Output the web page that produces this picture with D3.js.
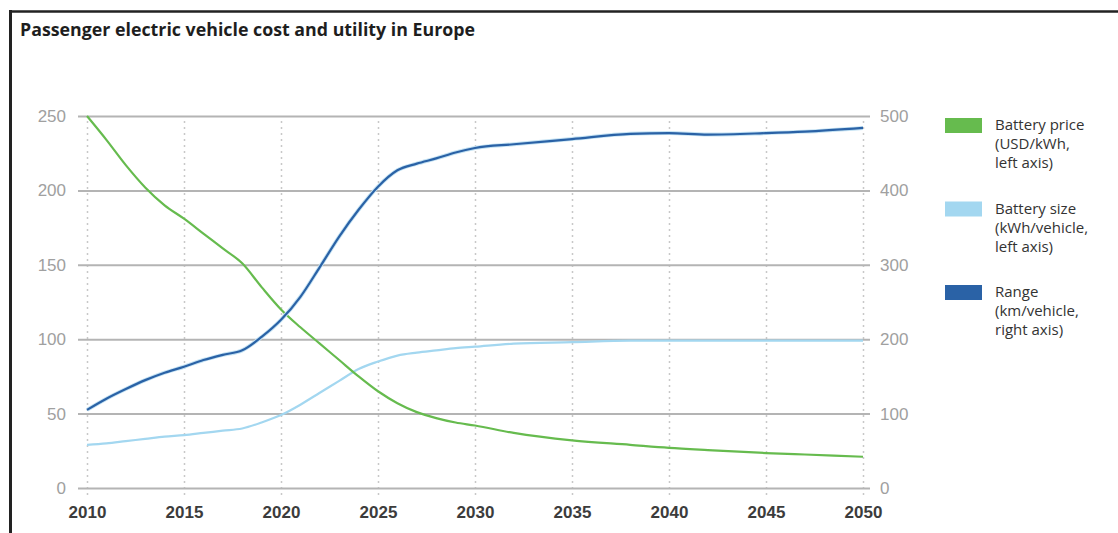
<!DOCTYPE html>
<html>
<head>
<meta charset="utf-8">
<script src="https://cdn.jsdelivr.net/npm/d3@7/dist/d3.min.js"></script>
<style>
  body { margin: 0; background: #fff; }
  svg { display: block; font-family: "Open Sans", "Noto Sans", sans-serif; }
</style>
</head>
<body>
<div id="chart"></div>
<script>
// chart values
const years = [2010, 2011, 2012, 2013, 2014, 2015, 2016, 2017, 2018, 2019, 2020,
               2021, 2022, 2023, 2024, 2025, 2026, 2027, 2028, 2029, 2030,
               2032, 2035, 2038, 2040, 2042, 2045, 2047, 2050];
// USD/kWh, left axis
const batteryPrice = [250, 234, 217, 202, 190, 181, 171, 161, 151, 135, 120,
                      108, 97, 86, 75, 65, 57, 51, 47, 44, 42,
                      37, 32, 29, 27, 25.5, 23.5, 22.5, 21];
// kWh/vehicle, left axis
const batterySize = [29, 30, 31.5, 33, 34.5, 35.5, 37, 38.5, 40, 44, 49,
                     56, 64, 72, 80, 85, 89, 91, 92.5, 94, 95,
                     97, 98, 99, 99, 99, 99, 99, 99];
// km/vehicle, right axis
const range = [105, 120, 133, 145, 155, 163, 172, 179, 185, 203, 226,
               257, 297, 338, 374, 405, 427, 436, 443, 451, 457,
               462, 469, 476, 477, 475, 477, 479, 484];

const xTicks = [2010, 2015, 2020, 2025, 2030, 2035, 2040, 2045, 2050];
const leftTicks = [0, 50, 100, 150, 200, 250];
const rightTicks = [0, 100, 200, 300, 400, 500];

const seriesNames = ["Battery price", "Battery size", "Range"];
const legendLines = [
    ["Battery price", "(USD/kWh,", "left axis)"],
    ["Battery size", "(kWh/vehicle,", "left axis)"],
    ["Range", "(km/vehicle,", "right axis)"]
];
const colours = ["#66bb4e", "#a3d7f0", "#2a62a6"];

const W = 1118, H = 533;
// m = plot box
const m = { l: 87, r: 863, t: 116, b: 488 };

const svg = d3.select("#chart").append("svg")
    .attr("width", W).attr("height", H);

// frame lines (top & left)
svg.append("line").attr("x1", 10).attr("x2", W).attr("y1", 11.5).attr("y2", 11.5)
    .attr("stroke", "#222").attr("stroke-width", 2.5);
svg.append("line").attr("x1", 10.5).attr("x2", 10.5).attr("y1", 10).attr("y2", H)
    .attr("stroke", "#222").attr("stroke-width", 3);

svg.append("text")
    .attr("x", 20).attr("y", 36)
    .attr("font-size", "18.5px").attr("font-weight", "bold")
    .attr("fill", "#1e1e1e")
    .attr("textLength", 455).attr("lengthAdjust", "spacingAndGlyphs")
    .text("Passenger electric vehicle cost and utility in Europe");

const x = d3.scaleLinear().domain([2010, 2050]).range([m.l, m.r]);
const yL = d3.scaleLinear().domain([0, 250]).range([m.b, m.t]);
const yR = d3.scaleLinear().domain([0, 500]).range([m.b, m.t]);

// vertical dotted grid + x labels
const xAxis = svg.append("g")
    .attr("transform", "translate(0," + 495 + ")")
    .call(d3.axisBottom(x).tickValues(xTicks).tickFormat(d3.format("d"))
        .tickSize(-(495 - m.t)).tickPadding(11));
xAxis.select(".domain").remove();
xAxis.selectAll(".tick line")
    .attr("stroke", "#c8c8c8").attr("stroke-width", 1.5)
    .attr("stroke-dasharray", "2,4");
xAxis.selectAll("text")
    .attr("font-size", "17px").attr("font-weight", "600")
    .attr("fill", "#3c3c3c");

// horizontal grid + left labels
const left = svg.append("g")
    .attr("transform", "translate(78,0)")
    .call(d3.axisLeft(yL).tickValues(leftTicks)
        .tickSize(-(870 - 78)).tickPadding(12));
left.select(".domain").remove();
left.selectAll(".tick line").attr("stroke", "#b4b4b4").attr("stroke-width", 2);
left.selectAll("text").attr("font-size", "17px").attr("fill", "#a0a0a0");

// right labels
const right = svg.append("g")
    .attr("transform", "translate(870,0)")
    .call(d3.axisRight(yR).tickValues(rightTicks).tickSize(0).tickPadding(10));
right.select(".domain").remove();
right.selectAll("text").attr("font-size", "17px").attr("fill", "#a0a0a0");

const lineL = d3.line().x((d, i) => x(years[i])).y(d => yL(d)).curve(d3.curveMonotoneX);
const lineR = d3.line().x((d, i) => x(years[i])).y(d => yR(d)).curve(d3.curveMonotoneX);

svg.append("path").datum(batterySize).attr("d", lineL)
    .attr("fill", "none").attr("stroke", colours[1]).attr("stroke-width", 2.2);
svg.append("path").datum(batteryPrice).attr("d", lineL)
    .attr("fill", "none").attr("stroke", colours[0]).attr("stroke-width", 2.2);
// range: soft halo then line
svg.append("path").datum(range).attr("d", lineR)
    .attr("fill", "none").attr("stroke", "#c4e2f3").attr("stroke-width", 4);
svg.append("path").datum(range).attr("d", lineR)
    .attr("fill", "none").attr("stroke", colours[2]).attr("stroke-width", 2.2);

// legend, one text per line
const lg = svg.append("g").attr("transform", "translate(945,118)");
const item = lg.selectAll("g").data(seriesNames).enter().append("g")
    .attr("transform", (d, i) => "translate(0," + (i * 83.5) + ")");
item.append("rect").attr("width", 37).attr("height", 15)
    .attr("fill", (d, i) => colours[i]);
item.selectAll("text").data((d, i) => legendLines[i]).enter().append("text")
    .attr("x", 50).attr("y", (d, j) => 12 + j * 19)
    .attr("font-size", "15px").attr("fill", "#333")
    .text(d => d);
</script>
</body>
</html>
